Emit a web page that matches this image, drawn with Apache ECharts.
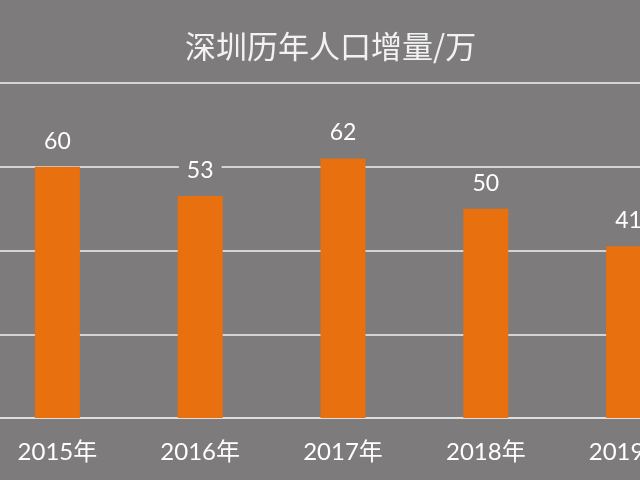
<!DOCTYPE html>
<html>
<head>
<meta charset="utf-8">
<script src="https://cdn.jsdelivr.net/npm/echarts@6/dist/echarts.min.js"></script>
<style>
html,body{margin:0;padding:0;background:#7e7b7c;overflow:hidden;width:640px;height:480px;}
#chart{position:absolute;left:-14px;top:0;width:714px;height:480px;}
</style>
</head>
<body>
<div id="chart"></div>
<script>
var titleText = '深圳历年人口增量/万';
var categories = ['2015年', '2016年', '2017年', '2018年', '2019年'];
var values = [60, 53, 62, 50, 41];
var yMin = 0, yMax = 80, yInterval = 20;

var bg = '#7e7b7c';
var chart = echarts.init(document.getElementById('chart'), null, {renderer: 'canvas'});
chart.setOption({
  backgroundColor: bg,
  animation: false,
  title: {
    text: titleText,
    left: 199,
    top: 31,
    padding: 0,
    textStyle: {
      color: '#f2f2f2',
      fontSize: 31,
      fontWeight: 'normal',
      fontFamily: "'Noto Sans CJK SC', sans-serif"
    }
  },
  grid: {
    left: 0,
    right: 0,
    top: 83,
    bottom: 62,
    containLabel: false
  },
  xAxis: {
    type: 'category',
    data: categories,
    axisLine: {show: true, lineStyle: {color: '#dedede', width: 2}},
    axisTick: {show: false},
    axisLabel: {
      color: '#ffffff',
      fontSize: 24,
      margin: 22,
      fontFamily: "Lato, 'Noto Sans CJK SC', sans-serif"
    }
  },
  yAxis: {
    type: 'value',
    min: yMin,
    max: yMax,
    interval: yInterval,
    axisLine: {show: false},
    axisTick: {show: false},
    axisLabel: {show: false},
    splitLine: {show: true, lineStyle: {color: '#d4d4d4', width: 2}}
  },
  series: [{
    type: 'bar',
    data: values,
    barWidth: 45,
    itemStyle: {color: '#e8700e'},
    label: {
      show: true,
      position: 'top',
      distance: 12,
      color: '#ffffff',
      fontSize: 23,
      fontFamily: "Lato, 'Open Sans', sans-serif",
      backgroundColor: bg,
      padding: [2, 8]
    }
  }]
});
</script>
</body>
</html>
